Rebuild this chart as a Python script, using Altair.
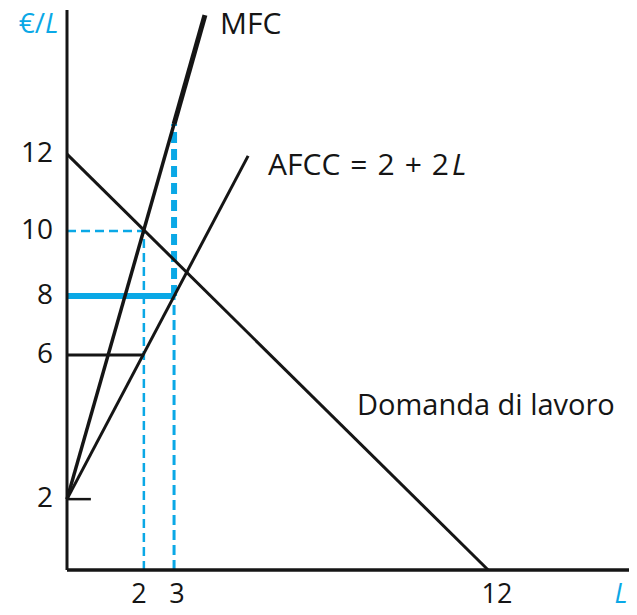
import altair as alt
import pandas as pd

# ---- curves (L, €/L) ----
demand_L = [0.0, 12.0]
demand_W = [12.03, 0.0]
afcc_L = [0.0, 5.16]
afcc_W = [2.05, 11.98]
mfc_L = [0.0, 3.05, 3.93]
mfc_W = [2.05, 12.9, 16.05]

# ---- key levels ----
L_mono = 2.19     # labelled "2"
L_min = 3.05      # labelled "3"
W_mfc = 9.81      # labelled "10"
W_min = 7.93      # labelled "8"
W_mono = 6.22     # labelled "6"
W_start = 2.05    # labelled "2"
start_tick_L = 0.68

# ---- tick labels ----
y_tick_vals = [12.03, 9.81, 7.93, 6.22, 2.05]
y_tick_text = ["12", "10", "8", "6", "2"]
x_tick_vals = [2.05, 3.13, 12.25]
x_tick_text = ["2", "3", "12"]

PLOT_W = 562
PLOT_H = 560
X_MAX = PLOT_W / 35.1
Y_MAX = 16.2
BLUE = "#0aa8e6"
INK = "#151515"
FONT = "Open Sans"

xs = alt.Scale(domain=[0, X_MAX], nice=False, zero=False)
ys = alt.Scale(domain=[0, Y_MAX], nice=False, zero=False)


def seg_layer(rows, color, dash=None):
    df = pd.DataFrame(rows, columns=["x", "y", "x2", "y2", "w"])
    kw = dict(color=color, strokeCap="butt")
    if dash is not None:
        kw["strokeDash"] = dash
    return alt.Chart(df).mark_rule(**kw).encode(
        x=alt.X("x:Q", scale=xs, axis=None),
        y=alt.Y("y:Q", scale=ys, axis=None),
        x2="x2:Q",
        y2="y2:Q",
        strokeWidth=alt.StrokeWidth("w:Q", scale=None),
    )


blue_thin = seg_layer([
    [0, W_mfc, L_mono, W_mfc, 2.5],
    [L_mono, 0, L_mono, W_mfc, 2.5],
], BLUE, [9, 5])
blue_mid = seg_layer([
    [L_min, 0, L_min, W_min, 3],
], BLUE, [10, 5])
blue_thick_dash = seg_layer([
    [L_min, W_min, L_min, mfc_W[1], 6],
], BLUE, [11, 6])
blue_solid = seg_layer([
    [0, W_min, L_min, W_min, 6],
], BLUE)

black = seg_layer([
    [demand_L[0], demand_W[0], demand_L[1], demand_W[1], 3],
    [afcc_L[0], afcc_W[0], afcc_L[1], afcc_W[1], 3],
    [mfc_L[0], mfc_W[0], mfc_L[1], mfc_W[1], 3.5],
    [mfc_L[1], mfc_W[1], mfc_L[2], mfc_W[2], 5],
    [0, W_mono, L_mono, W_mono, 3],
    [0, W_start, start_tick_L, W_start, 2.5],
], INK)

axes = seg_layer([
    [0, 0, 0, Y_MAX, 3],
    [0, 0, X_MAX, 0, 3.5],
], INK)

ytick_df = pd.DataFrame({"x": [0.0] * len(y_tick_vals), "y": y_tick_vals, "t": y_tick_text})
ylab = alt.Chart(ytick_df).mark_text(
    align="right", baseline="middle", dx=-14, fontSize=28, font=FONT, color=INK
).encode(x=alt.X("x:Q", scale=xs), y=alt.Y("y:Q", scale=ys), text="t:N")

xtick_df = pd.DataFrame({"x": x_tick_vals, "y": [0.0] * len(x_tick_vals), "t": x_tick_text})
xlab = alt.Chart(xtick_df).mark_text(
    align="center", baseline="middle", dy=25, fontSize=27, font=FONT, color=INK
).encode(x=alt.X("x:Q", scale=xs), y=alt.Y("y:Q", scale=ys), text="t:N")


def label(x, y, text, color=INK, italic=False, align="left", dx=0, dy=0, size=29):
    df = pd.DataFrame({"x": [x], "y": [y], "t": [text]})
    kw = dict(align=align, baseline="middle", fontSize=size, font=FONT, color=color, dx=dx, dy=dy)
    if italic:
        kw["fontStyle"] = "italic"
    return alt.Chart(df).mark_text(**kw).encode(
        x=alt.X("x:Q", scale=xs), y=alt.Y("y:Q", scale=ys), text="t:N"
    )


texts = [
    label(0, 15.76, "€/", BLUE, align="right", dx=-22, size=28),
    label(0, 15.76, "L", BLUE, italic=True, align="left", dx=-22, size=28),
    label(4.36, 15.76, "MFC", size=30),
    label(5.73, 11.69, "AFCC\u2004=\u20042\u2004+\u20042", size=30),
    label(10.97, 11.69, "L", italic=True, size=30),
    label(8.26, 4.74, "Domanda di lavoro"),
    label(15.6, 0, "L", BLUE, italic=True, dy=25, size=27),
]

chart = alt.layer(
    blue_thin, blue_mid, blue_thick_dash, blue_solid, black, axes, ylab, xlab, *texts
).properties(
    width=PLOT_W,
    height=PLOT_H,
    autosize=alt.AutoSizeParams(type="none"),
    padding={"left": 59, "top": 2, "right": 0, "bottom": 37},
).configure_view(stroke=None)

chart.save("out.html", embed_options={"renderer": "svg", "actions": False})
